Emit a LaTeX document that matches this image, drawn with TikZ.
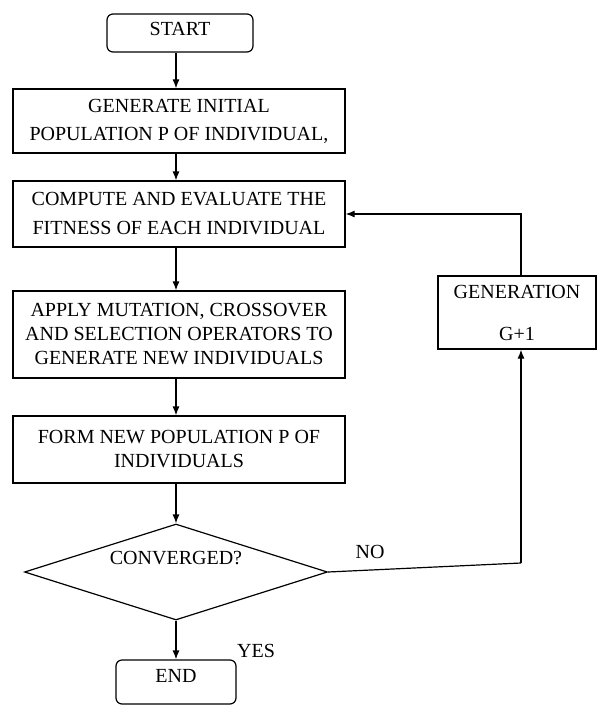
\documentclass[tikz,border=0pt]{standalone}
\usepackage{fontspec}
\setmainfont{Liberation Serif}
\usetikzlibrary{shapes.geometric,arrows.meta}
\begin{document}
\begin{tikzpicture}[x=1pt,y=-1pt,
  every node/.style={font=\fontsize{20}{24}\selectfont},
  procbox/.style={draw,line width=1.2pt,minimum width=332pt,align=center,inner sep=0pt},
  termbox/.style={draw,line width=1.2pt,rounded corners=6pt,inner sep=0pt},
  decbox/.style={draw,line width=1.2pt,diamond,aspect=3.156,inner sep=0pt,minimum width=303pt,minimum height=96pt},
  lbl/.style={inner sep=0pt},
  arr/.style={line width=1.2pt,-{Latex[length=9pt,width=7pt]}}]
\useasboundingbox (0,0) rectangle (597,706);
\fill[white] (0,0) rectangle (597,706);

\node[termbox,minimum width=146pt,minimum height=38pt,text height=14pt,text depth=9pt] (start) at (180,33) {START};
\node[procbox,minimum height=64pt] (gen) at (179,121) {GENERATE INITIAL\\[4pt]POPULATION P OF INDIVIDUAL,};
\node[procbox,minimum height=66pt] (comp) at (179,214) {COMPUTE AND EVALUATE THE\\[5pt]FITNESS OF EACH INDIVIDUAL};
\node[procbox,minimum height=87pt] (apply) at (179,334.5) {APPLY MUTATION, CROSSOVER\\AND SELECTION OPERATORS TO\\GENERATE NEW INDIVIDUALS};
\node[procbox,minimum height=67pt] (form) at (179,449.5) {FORM NEW POPULATION P OF\\INDIVIDUALS};
\node[decbox,text height=14pt,text depth=29pt] (dec) at (176,572) {CONVERGED?};
\node[termbox,minimum width=120pt,minimum height=44pt,text height=15pt,text depth=15pt] (end) at (176,682) {END};
\node[procbox,minimum width=158pt,minimum height=73pt] (ggen) at (517,312.5) {GENERATION\\[18pt]G+1};

\node[lbl] (no) at (370,552) {NO};
\node[lbl] (yes) at (256,651) {YES};
\coordinate (noc) at (521,563);

\draw[arr] ([xshift=-4pt]start.south) -- ([xshift=-3pt]gen.north);
\draw[arr] ([xshift=-3pt]gen.south) -- ([xshift=-3pt]comp.north);
\draw[arr] ([xshift=-3pt]comp.south) -- ([xshift=-3pt]apply.north);
\draw[arr] ([xshift=-3pt]apply.south) -- ([xshift=-3pt]form.north);
\draw[arr] ([xshift=-3pt]form.south) -- (dec.north);
\draw[arr] (dec.south) -- (end.north);
\draw[line width=1.2pt] (dec.east) -- (noc);
\draw[arr] (noc) -- ([xshift=4pt]ggen.south);
\draw[arr] ([xshift=4pt]ggen.north) |- (comp.east);
\end{tikzpicture}
\end{document}
